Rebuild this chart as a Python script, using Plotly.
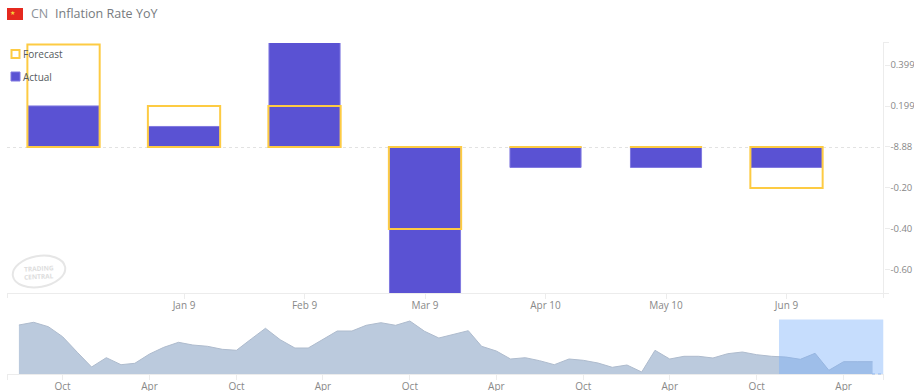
import math
import pandas as pd
import plotly.graph_objects as go

W, H = 914, 391

months = ["Dec 9", "Jan 9", "Feb 9", "Mar 9", "Apr 10", "May 10", "Jun 9"]
forecast = [0.5, 0.2, 0.2, -0.4, 0.0, 0.0, -0.2]
actual = [0.2, 0.1, 0.7, -0.8, -0.1, -0.1, -0.1]

y_tick_vals = [0.399, 0.199, 0, -0.2, -0.4, -0.6]
y_tick_text = ["0.399", "0.199", "-8.88", "-0.20", "-0.40", "-0.60"]
overview_start = "2019-07-01"
overview_values = [49.0, 51.7, 47.3, 37.3, 21.7, 7.0, 16.3, 9.3, 10.7, 20.0,
                   26.7, 31.7, 29.0, 27.7, 24.7, 23.7, 35.0, 45.7, 34.3, 26.0,
                   26.0, 34.7, 43.0, 43.0, 48.7, 51.3, 48.7, 53.0, 42.7, 36.0,
                   39.3, 43.3, 27.7, 23.0, 15.0, 16.3, 13.3, 9.3, 15.0, 13.7,
                   11.0, 6.7, 9.0, 2.0, 23.7, 15.0, 17.7, 17.7, 16.0, 20.3,
                   22.0, 19.3, 17.7, 17.0, 14.7, 20.7, 3.7, 12.3, 12.3, 12.3]
overview_dates = pd.date_range(overview_start, periods=len(overview_values), freq="MS")


def px_x(p):
    return p / W


def px_y(p):
    return 1 - p / H


AXIS = "#ececec"
TICK = "#888888"
font = "Open Sans, sans-serif"

fig = go.Figure()
fig.add_trace(go.Bar(x=months, y=actual, width=0.59, marker=dict(color="#5a52d3", line=dict(color="#8079e0", width=1)),
                     xaxis="x", yaxis="y", hoverinfo="x+y", name="Actual", showlegend=False))
fig.add_trace(go.Bar(x=months, y=forecast, width=0.6, marker=dict(color="rgba(0,0,0,0)", line=dict(color="#fdcb43", width=2)),
                     xaxis="x", yaxis="y", hoverinfo="x+y", name="Forecast", showlegend=False))
fig.add_trace(go.Scatter(x=overview_dates, y=overview_values, mode="lines", fill="tozeroy", fillcolor="#bbcadd",
                         line=dict(color="#aebbcd", width=1), xaxis="x2", yaxis="y2", showlegend=False))


def line(x0, y0, x1, y1, color=AXIS, width=1, dash="solid", layer="below"):
    return dict(type="line", xref="paper", yref="paper", x0=px_x(x0), x1=px_x(x1), y0=px_y(y0), y1=px_y(y1),
                line=dict(color=color, width=width, dash=dash), layer=layer)


def rect(x0, y0, x1, y1, fill, lc=None, lw=0, layer="above"):
    return dict(type="rect", xref="paper", yref="paper", x0=px_x(x0), x1=px_x(x1), y0=px_y(y0), y1=px_y(y1),
                fillcolor=fill, line=dict(color=lc or fill, width=lw), layer=layer)


def tilted_ellipse(cx, cy, rx, ry, deg):
    a = math.radians(deg)
    k = 0.5523

    def pt(u, v):
        x = cx + u * rx * math.cos(a) - v * ry * math.sin(a)
        y = cy + u * rx * math.sin(a) + v * ry * math.cos(a)
        return f"{px_x(x):.5f},{px_y(y):.5f}"

    return (f"M {pt(1, 0)} C {pt(1, k)} {pt(k, 1)} {pt(0, 1)} C {pt(-k, 1)} {pt(-1, k)} {pt(-1, 0)} "
            f"C {pt(-1, -k)} {pt(-k, -1)} {pt(0, -1)} C {pt(k, -1)} {pt(1, -k)} {pt(1, 0)} Z")


shapes = [
    line(7, 293.5, 889, 293.5), line(883.5, 42, 883.5, 293), line(883, 42.5, 889, 42.5),
    line(7.5, 293, 7.5, 298), line(883.5, 293, 883.5, 298),
    line(7, 147.5, 883, 147.5, color="#e2e2e2", dash="dot"),
    line(7, 374.5, 883, 374.5), line(7.5, 374, 7.5, 380), line(883.5, 374, 883.5, 380),
    line(872, 374, 883, 374, color="#9dbce8", dash="dot", layer="above"),
    # legend swatches
    rect(11.5, 50, 19.5, 58, "rgba(255,255,255,0)", "#fdcb43", 2),
    rect(11, 72, 20, 81, "#5a52d3", "#8079e0", 1),
    # flag
    rect(7, 8, 23, 20, "#e5291f"),
    # logo
    dict(type="path", xref="paper", yref="paper", path=tilted_ellipse(39, 271.5, 26.5, 15.5, -10),
         line=dict(color="#e6e6e6", width=2), layer="below"),
    # navigator selection
    dict(type="rect", xref="x2", yref="paper", x0="2023-11-17", x1="2024-06-24", y0=px_y(374), y1=px_y(319.5),
         fillcolor="rgba(120,175,250,0.42)", line=dict(width=0), layer="above"),
]


def text(x, y, s, size, color, anchor="left", angle=0):
    return dict(xref="paper", yref="paper", x=px_x(x), y=px_y(y), text=s, showarrow=False, xanchor=anchor,
                yanchor="middle", textangle=angle, font=dict(family=font, size=size, color=color))


annotations = [
    text(29, 14, "CN", 12.5, "#8d9299"),
    text(53, 14, "Inflation Rate YoY", 12.5, "#777b80"),
    text(21, 54, "Forecast", 10, "#555a60"),
    text(21, 77, "Actual", 10, "#555a60"),
    text(12, 13, "★", 6, "#f5d33a", "center"),
    text(39, 268, "<b>TRADING</b>", 6.5, "#dddddd", "center", -3),
    text(39, 276, "<b>CENTRAL</b>", 6.5, "#dddddd", "center", -3),
]

fig.update_layout(
    width=W, height=H, margin=dict(l=0, r=0, t=0, b=0, autoexpand=False), paper_bgcolor="white", plot_bgcolor="white",
    barmode="overlay", showlegend=False, shapes=shapes, annotations=annotations,
    font=dict(family=font, size=10, color=TICK),
    xaxis=dict(domain=[px_x(7.5), px_x(883.5)], range=[-0.465, 6.805], type="category",
               categoryorder="array", categoryarray=months, anchor="y", showgrid=False, zeroline=False, showline=False,
               tickvals=months[1:], ticks="outside", ticklen=5, tickcolor=AXIS, ticklabelstandoff=-2,
               tickfont=dict(size=10, color=TICK)),
    yaxis=dict(domain=[px_y(293), px_y(43)], range=[-0.7122, 0.507], side="right", anchor="x", showgrid=False,
               zeroline=False, showline=False, tickvals=y_tick_vals, ticktext=y_tick_text, ticks="outside",
               ticklen=5, tickcolor=AXIS, ticklabelstandoff=-1, tickfont=dict(size=9.5, color=TICK)),
    xaxis2=dict(domain=[px_x(7.5), px_x(883.5)], range=["2019-06-07", "2024-06-24"], type="date", anchor="y2",
                dtick="M6", tick0="2019-10-01", tickformat="%b", showgrid=False, zeroline=False, showline=False,
                ticks="outside", ticklen=5, tickcolor=AXIS, ticklabelstandoff=-2, tickfont=dict(size=10, color=TICK)),
    yaxis2=dict(domain=[px_y(374), px_y(319.5)], range=[0, 54.5], anchor="x2", visible=False),
)
fig.write_html("out.html", config=dict(displayModeBar=False),
               post_script="document.body.style.margin='0';document.body.style.overflow='hidden';")
